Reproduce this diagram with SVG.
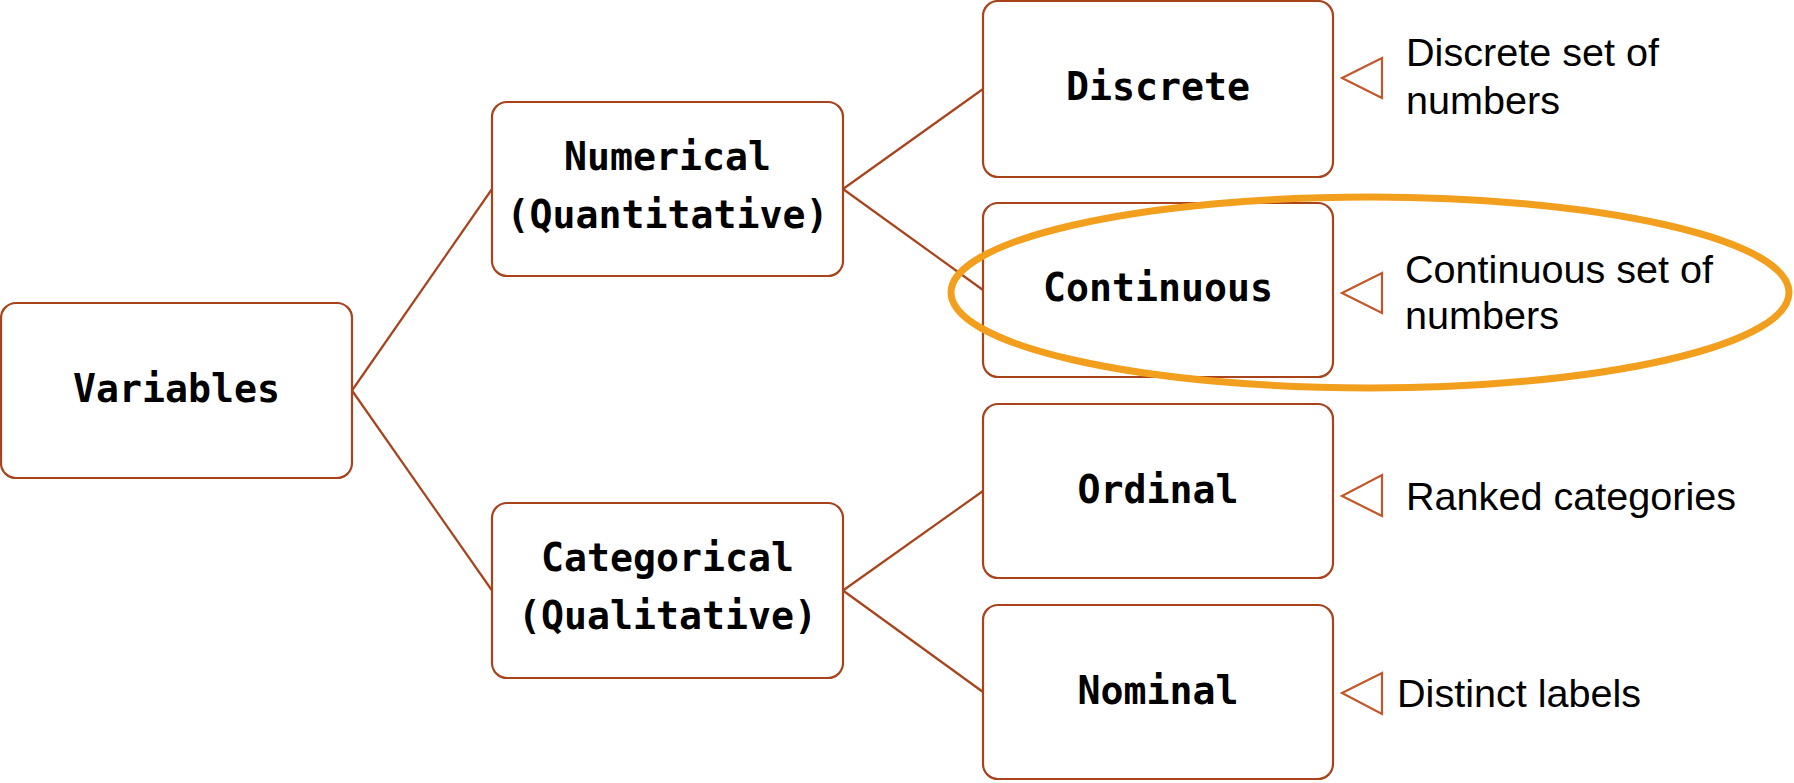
<svg xmlns="http://www.w3.org/2000/svg" width="1794" height="783" viewBox="0 0 1794 783">
<defs>
<style>
.box{fill:#ffffff;stroke:#A8431C;stroke-width:2.2}
.conn{stroke:#A8431C;stroke-width:2.2;fill:none}
.tri{fill:#ffffff;stroke:#C4572A;stroke-width:2.2;stroke-linejoin:miter}
.lbl{font-family:"DejaVu Sans Mono","Liberation Mono",monospace;font-weight:bold;font-size:38.2px;fill:#000;text-anchor:middle}
.note{font-family:"Liberation Sans",Arial,sans-serif;font-size:39.6px;fill:#000}
.hl{fill:none;stroke:#F29F1E;stroke-width:7}
</style>
</defs>
<rect width="1794" height="783" fill="#ffffff"/>
<g id="connectors">
<line class="conn" x1="352" y1="390.5" x2="492" y2="189"/>
<line class="conn" x1="352" y1="390.5" x2="492" y2="590.5"/>
<line class="conn" x1="843" y1="189" x2="983" y2="89"/>
<line class="conn" x1="843" y1="189" x2="983" y2="290"/>
<line class="conn" x1="843" y1="590.5" x2="983" y2="491"/>
<line class="conn" x1="843" y1="590.5" x2="983" y2="692"/>
</g>
<g id="variables">
<rect class="box" x="1" y="303" width="351" height="175" rx="15"/>
<text class="lbl" x="176.5" y="402">Variables</text>
</g>
<g id="numerical">
<rect class="box" x="492" y="102" width="351" height="174" rx="15"/>
<text class="lbl" x="667.5" y="170">Numerical</text>
<text class="lbl" x="667.5" y="228">(Quantitative)</text>
</g>
<g id="categorical">
<rect class="box" x="492" y="503" width="351" height="175" rx="15"/>
<text class="lbl" x="667.5" y="571">Categorical</text>
<text class="lbl" x="667.5" y="629">(Qualitative)</text>
</g>
<g id="discrete">
<rect class="box" x="983" y="1" width="350" height="176" rx="15"/>
<text class="lbl" x="1158" y="100">Discrete</text>
<polygon class="tri" points="1342,78 1382,58 1382,98"/>
<text class="note" x="1406" y="66">Discrete set of</text>
<text class="note" x="1406" y="114">numbers</text>
</g>
<g id="continuous">
<rect class="box" x="983" y="203" width="350" height="174" rx="15"/>
<text class="lbl" x="1158" y="301">Continuous</text>
<polygon class="tri" points="1342,293 1382,273 1382,313"/>
<text class="note" x="1405" y="283">Continuous set of</text>
<text class="note" x="1405" y="329">numbers</text>
</g>
<g id="ordinal">
<rect class="box" x="983" y="404" width="350" height="174" rx="15"/>
<text class="lbl" x="1158" y="503">Ordinal</text>
<polygon class="tri" points="1342,496 1382,475 1382,516"/>
<text class="note" x="1406" y="510">Ranked categories</text>
</g>
<g id="nominal">
<rect class="box" x="983" y="605" width="350" height="174" rx="15"/>
<text class="lbl" x="1158" y="704">Nominal</text>
<polygon class="tri" points="1342,693 1382,673 1382,714"/>
<text class="note" x="1397" y="707">Distinct labels</text>
</g>
<g id="highlight">
<ellipse class="hl" cx="1370" cy="292.5" rx="419" ry="95.5"/>
</g>
</svg>
